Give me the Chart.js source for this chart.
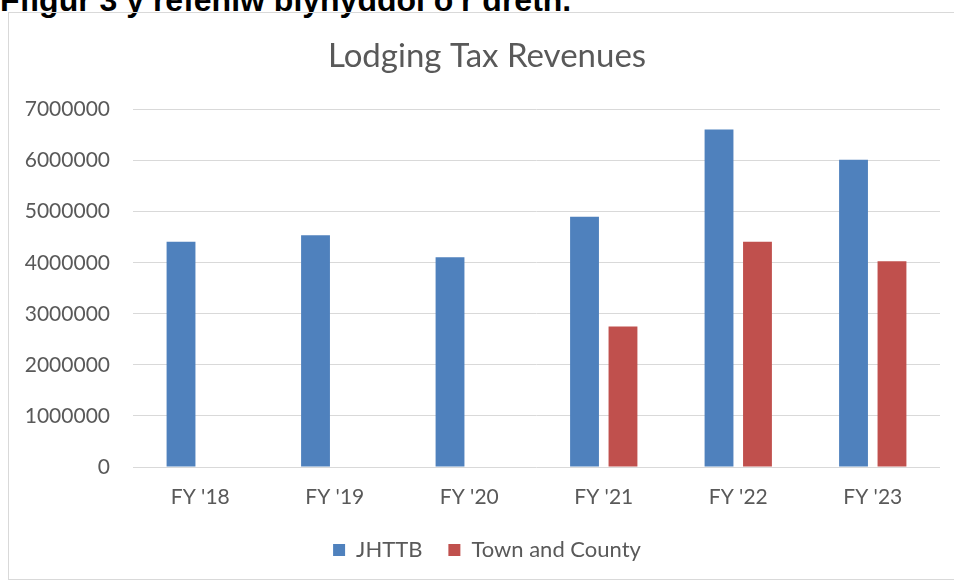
<!DOCTYPE html>
<html>
<head>
<meta charset="utf-8">
<script src="https://cdn.jsdelivr.net/npm/chart.js@4.4.0/dist/chart.umd.min.js"></script>
<style>
  html, body { margin: 0; padding: 0; background: #ffffff; overflow: hidden; }
  body { width: 954px; height: 583px; position: relative; }
  #header {
    position: absolute; left: 0; top: -16px; white-space: nowrap;
    font-family: "Liberation Sans", Arial, sans-serif; font-weight: bold;
    font-size: 32px; line-height: 32px; color: #000000;
  }
  #frame {
    position: absolute; left: 8px; top: 12px; width: 960px; height: 568px;
    border: 1px solid #d9d9d9; box-sizing: border-box;
  }
  #c { position: absolute; left: 0; top: 0; }
</style>
</head>
<body>
<div id="header">Ffigur 3 y refeniw blynyddol o'r dreth.</div>
<div id="frame"></div>
<canvas id="c" width="954" height="583"></canvas>
<script>
const categories = ["FY '18", "FY '19", "FY '20", "FY '21", "FY '22", "FY '23"];
const jhttb = [4410000, 4540000, 4110000, 4900000, 6610000, 6020000];
const townCounty = [null, null, null, 2750000, 4410000, 4030000];
const yTicks = [0, 1000000, 2000000, 3000000, 4000000, 5000000, 6000000, 7000000];

const fontFamily = "Lato, 'Open Sans', sans-serif";
const textColor = "#595959";

new Chart(document.getElementById('c'), {
  type: 'bar',
  data: {
    labels: categories,
    datasets: [
      { label: 'JHTTB', data: jhttb, backgroundColor: '#4f81bd',
        categoryPercentage: 0.572, barPercentage: 0.75 },
      { label: 'Town and County', data: townCounty, backgroundColor: '#c0504d',
        categoryPercentage: 0.572, barPercentage: 0.75 }
    ]
  },
  options: {
    responsive: false,
    animation: false,
    devicePixelRatio: 1,
    layout: { padding: { left: 34, right: 14, top: 0, bottom: 12 } },
    plugins: {
      title: {
        display: true,
        text: 'Lodging Tax Revenues',
        color: textColor,
        font: { family: fontFamily, size: 33, weight: 'normal' },
        padding: { top: 37, bottom: 33 }
      },
      legend: {
        position: 'bottom',
        labels: {
          color: textColor,
          font: { family: fontFamily, size: 22 },
          boxWidth: 12, boxHeight: 12,
          padding: 26
        }
      },
      tooltip: { enabled: false }
    },
    scales: {
      x: {
        afterFit: (axis) => { axis.height = 46; },
        grid: { display: false },
        border: { display: false },
        ticks: { color: textColor, font: { family: fontFamily, size: 21 }, padding: 10 }
      },
      y: {
        min: 0, max: 7000000,
        afterFit: (axis) => {
          axis.width = 99;
          axis._computeLabelArea = () => undefined;
        },
        afterBuildTicks: (axis) => { axis.ticks = yTicks.map(v => ({ value: v })); },
        grid: { color: '#d9d9d9', drawTicks: false, lineWidth: 1 },
        border: { display: false },
        ticks: {
          color: textColor, font: { family: fontFamily, size: 21 }, padding: 23,
          callback: (v) => String(v)
        }
      }
    }
  }
});
</script>
</body>
</html>
